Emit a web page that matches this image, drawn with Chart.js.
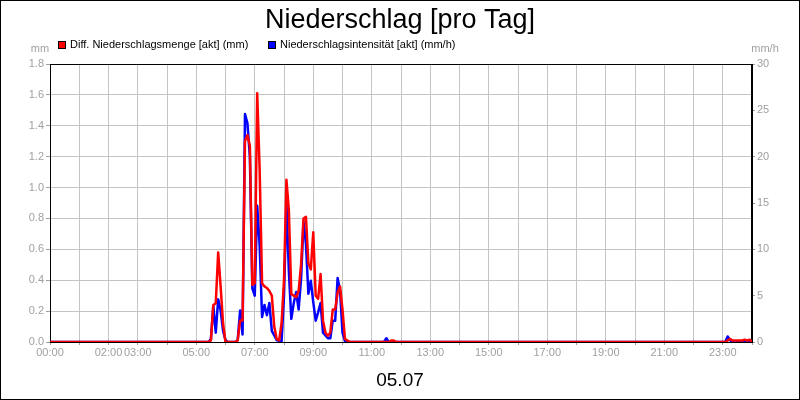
<!DOCTYPE html>
<html>
<head>
<meta charset="utf-8">
<script src="https://cdn.jsdelivr.net/npm/chart.js@4/dist/chart.umd.min.js"></script>
<style>
  body { margin: 0; background: #fff; }
  #wrap { width: 800px; height: 400px; position: relative; }
</style>
</head>
<body>
<div id="wrap"><canvas id="myChart"></canvas></div>
<script>
// Zeitpunkte (5-Minuten-Werte), dazwischen 0
var zeiten = ['00:00','05:25','05:30','05:35','05:40','05:45','05:50','05:55','06:00','06:05','06:20',
  '06:25','06:30','06:35','06:40','06:45','06:50','06:55','07:00','07:05','07:10','07:15','07:20',
  '07:25','07:30','07:35','07:40','07:45','07:50','07:55','08:00','08:05','08:10','08:15','08:20',
  '08:25','08:30','08:35','08:40','08:45','08:50','08:55','09:00','09:05','09:10','09:15','09:20',
  '09:25','09:30','09:35','09:40','09:45','09:50','09:55','10:00','10:05','10:10','10:15','11:25',
  '11:30','11:35','11:40','11:45','11:50','23:05','23:10','23:15','23:20','23:25','23:30','23:35',
  '23:40','23:45','23:50','23:55','24:00'];
// Diff. Niederschlagsmenge [akt] (mm)
var menge = [0,0,0.01,0.24,0.25,0.58,0.36,0.12,0,0,0,
  0.01,0.14,0.14,1.30,1.34,1.27,0.37,0.38,1.61,1.12,0.38,0.36,
  0.35,0.33,0.30,0.10,0.02,0.01,0.12,0.40,1.05,0.85,0.31,0.30,
  0.29,0.33,0.50,0.80,0.81,0.51,0.47,0.71,0.30,0.28,0.44,0.14,
  0.06,0.04,0.06,0.21,0.21,0.32,0.36,0.21,0.02,0.01,0,0,
  0,0,0.01,0.01,0,0,0.01,0.02,0.01,0.01,0.01,0.01,
  0.01,0.015,0.01,0.015,0];
// Niederschlagsintensität [akt] (mm/h)
var intens = [0,0,0.3,3.9,1.0,4.6,3.4,1.2,0.2,0,0,
  0.2,3.4,0.8,24.6,23.6,20.0,5.8,5.0,14.7,10.5,2.7,4.0,
  2.9,4.2,1.2,0.7,0.2,0.1,0.1,5.0,15.0,7.6,2.5,4.2,
  5.4,3.5,6.8,13.0,10.6,5.2,6.6,4.3,2.3,3.2,4.2,1.0,
  0.7,0.4,0.4,2.3,2.3,6.9,5.5,1.0,0.1,0,0,0,
  0.4,0,0,0,0,0,0.6,0.2,0,0.1,0,0.1,
  0,0,0,0,0];
var xLabels = [0,2,3,5,7,9,11,13,15,17,19,21,23];

function stunde(s) {
  var p = s.split(':');
  return parseInt(p[0]) + parseInt(p[1]) / 60;
}
var d1 = [], d2 = [];
for (var i = 0; i < zeiten.length; i++) {
  d1.push({x: stunde(zeiten[i]), y: menge[i]});
  d2.push({x: stunde(zeiten[i]), y: intens[i]});
}

Chart.defaults.font.family = "'Liberation Sans', Arial, sans-serif";
var grau = '#a0a0a0';

var extras = {
  id: 'extras',
  beforeDraw: function(chart) {
    var c = chart.ctx;
    c.save();
    c.fillStyle = '#fff';
    c.fillRect(0, 0, 800, 400);
    c.restore();
  },
  beforeDatasetsDraw: function(chart) {
    var c = chart.ctx, a = chart.chartArea;
    c.save();
    c.strokeStyle = '#000';
    c.lineWidth = 1;
    c.strokeRect(a.left + 0.5, a.top + 0.5, a.right - a.left - 1, a.bottom - a.top);
    c.restore();
  },
  afterDraw: function(chart) {
    var c = chart.ctx;
    c.save();
    // Rahmen
    c.strokeStyle = '#000';
    c.lineWidth = 1;
    c.strokeRect(0.5, 0.5, 799, 399);
    // Titel
    c.fillStyle = '#000';
    c.textAlign = 'center';
    c.textBaseline = 'alphabetic';
    c.font = "27px 'Liberation Sans', Arial, sans-serif";
    c.fillText('Niederschlag [pro Tag]', 400, 28);
    // Datum
    c.font = "19px 'Liberation Sans', Arial, sans-serif";
    c.fillText('05.07', 400, 386);
    // Einheiten
    c.fillStyle = grau;
    c.font = "11px 'Liberation Sans', Arial, sans-serif";
    c.textBaseline = 'middle';
    c.fillText('mm', 40, 49);
    c.fillText('mm/h', 765, 49);
    // Legende
    var items = [
      {x: 58, text: 'Diff. Niederschlagsmenge [akt] (mm)', color: '#ff0000'},
      {x: 268, text: 'Niederschlagsintensität [akt] (mm/h)', color: '#0000ff'}
    ];
    c.textAlign = 'left';
    items.forEach(function(it) {
      c.fillStyle = it.color;
      c.fillRect(it.x, 41, 7, 7);
      c.strokeStyle = '#000';
      c.strokeRect(it.x + 0.5, 41.5, 7, 7);
      c.fillStyle = '#000';
      c.fillText(it.text, it.x + 12, 45);
    });
    c.restore();
  }
};

var ctx = document.getElementById('myChart').getContext('2d');
var myChart = new Chart(ctx, {
  type: 'line',
  data: {
    datasets: [{
      label: 'Diff. Niederschlagsmenge [akt] (mm)',
      data: d1,
      borderColor: '#ff0000',
      borderWidth: 2.5,
      borderJoinStyle: 'round',
      borderCapStyle: 'round',
      pointRadius: 0,
      tension: 0,
      yAxisID: 'y'
    }, {
      label: 'Niederschlagsintensität [akt] (mm/h)',
      data: d2,
      borderColor: '#0000ff',
      borderWidth: 2.5,
      borderJoinStyle: 'round',
      borderCapStyle: 'round',
      pointRadius: 0,
      tension: 0,
      yAxisID: 'y2'
    }]
  },
  options: {
    responsive: true,
    maintainAspectRatio: false,
    animation: false,
    layout: { padding: { top: 64 } },
    plugins: {
      legend: { display: false },
      tooltip: { enabled: false }
    },
    scales: {
      x: {
        type: 'linear',
        min: 0,
        max: 24,
        afterFit: function(s) { s.height = 58; },
        border: { color: '#000' },
        grid: { color: '#c4c4c4', tickColor: grau, tickLength: 3 },
        ticks: {
          stepSize: 1,
          autoSkip: false,
          maxRotation: 0,
          padding: 1,
          color: grau,
          font: { size: 11 },
          callback: function(v) {
            if (xLabels.indexOf(v) < 0) return '';
            return (v < 10 ? '0' : '') + v + ':00';
          }
        }
      },
      y: {
        position: 'left',
        min: 0,
        max: 1.8,
        afterFit: function(s) { s.width = 50; },
        border: { color: '#000' },
        grid: { color: '#c4c4c4', tickColor: grau, tickLength: 4 },
        ticks: {
          stepSize: 0.2,
          padding: 2,
          color: grau,
          font: { size: 11 },
          callback: function(v) { return v.toFixed(1); }
        }
      },
      y2: {
        position: 'right',
        min: 0,
        max: 30,
        afterFit: function(s) { s.width = 48; },
        border: { color: '#000' },
        grid: { drawOnChartArea: false, tickColor: grau, tickLength: 3 },
        ticks: {
          stepSize: 5,
          padding: 2,
          color: grau,
          font: { size: 11 }
        }
      }
    }
  },
  plugins: [extras]
});
</script>
</body>
</html>
